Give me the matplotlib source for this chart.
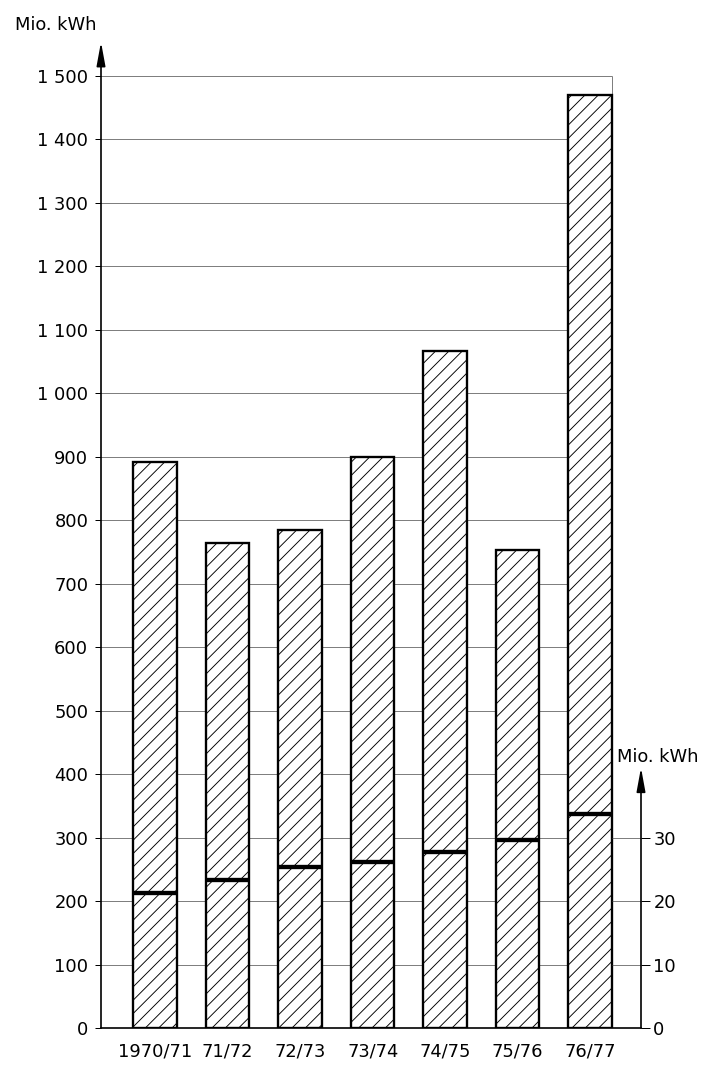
import numpy as np
import matplotlib
matplotlib.use("Agg")
from matplotlib import pyplot as plt

# data
years = ["1970/71", "71/72", "72/73", "73/74", "74/75", "75/76", "76/77"]
total = [891, 764, 784, 899, 1066, 753, 1469]      # left axis, Mio. kWh
part = [21.2, 23.3, 25.4, 26.2, 27.7, 29.6, 33.7]  # right axis, Mio. kWh
left_ticks = [0, 100, 200, 300, 400, 500, 600, 700, 800, 900,
              1000, 1100, 1200, 1300, 1400, 1500]
left_labels = ["0", "100", "200", "300", "400", "500", "600", "700", "800", "900",
               "1 000", "1 100", "1 200", "1 300", "1 400", "1 500"]
right_ticks = [0, 10, 20, 30]

DPI = 120
plt.rcParams['font.family'] = ['DejaVu Sans']
plt.rcParams['hatch.linewidth'] = 0.55

fig = plt.figure(figsize=(715 / DPI, 1068 / DPI), dpi=DPI)
ax = fig.add_axes([101 / 715, 40 / 1068, 540 / 715, 986 / 1068])
ax.set_facecolor('none')

x = np.arange(len(years))
width = 0.6
xmin, xmax = -0.745, 6.70
ymax = 1553
ax.set_xlim(xmin, xmax)
ax.set_ylim(0, ymax)

# grid behind the bars
grid_y = left_ticks[1:]
ax.hlines(grid_y, xmin, x[-1] + width / 2, color='#555555', lw=0.45, zorder=1)
ax.vlines(x[-1] + width / 2, 0, 1500, color='#555555', lw=0.45, zorder=1)

ax.bar(x, total, width, facecolor='white', edgecolor='black', lw=1.4,
       hatch='///', zorder=2)

for s in ['top', 'right', 'left']:
    ax.spines[s].set_visible(False)
ax.spines['bottom'].set_linewidth(1.0)

ax.set_yticks(left_ticks)
ax.set_yticklabels(left_labels)
ax.tick_params(axis='y', length=3.6, width=0.6, pad=4, labelsize=10.7)
ax.set_xticks(x)
ax.set_xticklabels(years)
ax.tick_params(axis='x', length=0, pad=9, labelsize=10.7)

# left axis with arrow
ax.annotate('', xy=(xmin, ymax), xytext=(xmin, 0),
            arrowprops=dict(arrowstyle='-|>,head_length=1.2,head_width=0.22',
                            mutation_scale=10, lw=1.0, color='black',
                            shrinkA=0, shrinkB=0),
            annotation_clip=False)

# right axis
ax2 = ax.twinx()
ax2.set_ylim(0, ymax / 10)
for s in ax2.spines.values():
    s.set_visible(False)
ax2.set_yticks(right_ticks)
ax2.tick_params(axis='y', length=5.4, width=0.6, pad=2, labelsize=10.7)
ax2.hlines(right_ticks[1:], x[-1] + width / 2, xmax, color='#555555', lw=0.45)
ax2.hlines(part, x - width / 2, x + width / 2, color='black', lw=2.6, zorder=5)
ax2.annotate('', xy=(xmax, 41), xytext=(xmax, 0),
             arrowprops=dict(arrowstyle='-|>,head_length=1.2,head_width=0.22',
                             mutation_scale=10, lw=1.0, color='black',
                             shrinkA=0, shrinkB=0),
             annotation_clip=False)

fig.text(15 / 715, 1 - 25 / 1068, "Mio. kWh", fontsize=10.7, ha='left', va='center')
fig.text(617 / 715, 1 - 757 / 1068, "Mio. kWh", fontsize=10.7, ha='left', va='center')

fig.savefig("out.png", dpi=DPI)
